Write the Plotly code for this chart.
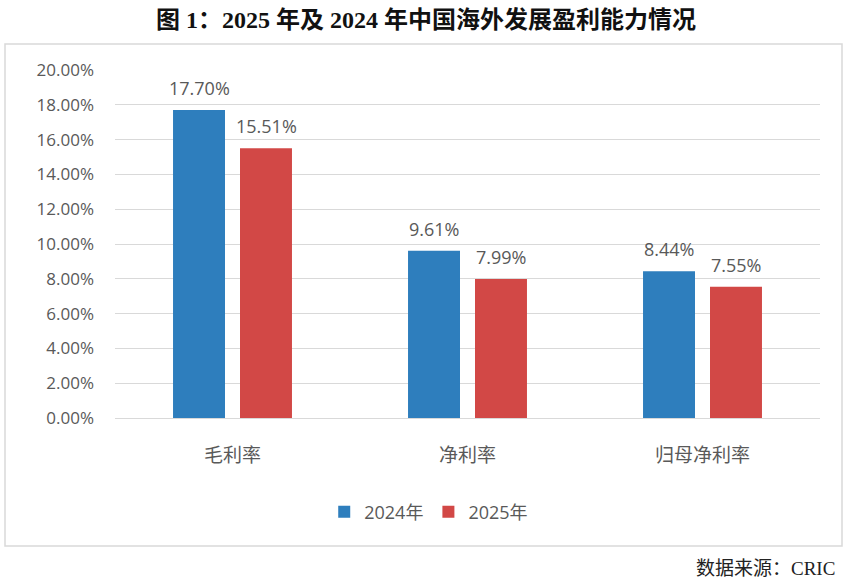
import plotly.graph_objects as go

categories = ["毛利率", "净利率", "归母净利率"]
series_names = ["2024年", "2025年"]
values_2024 = [0.1770, 0.0961, 0.0844]
values_2025 = [0.1551, 0.0799, 0.0755]
y_ticks = [0, 0.02, 0.04, 0.06, 0.08, 0.10, 0.12, 0.14, 0.16, 0.18, 0.20]

colors = ["#2E7EBD", "#D24846"]
grey = "#595959"
L, R, T, B = 115, 32, 70, 168
W, H = 852, 586
pw, ph = W - L - R, H - T - B

fig = go.Figure()
for name, vals, c in zip(series_names, [values_2024, values_2025], colors):
    fig.add_trace(go.Bar(x=categories, y=vals, name=name, marker_color=c,
                         marker_line_width=0))

# data labels
for vals, shift in [(values_2024, -33.5), (values_2025, 33.5)]:
    for cat, v in zip(categories, vals):
        fig.add_annotation(x=cat, y=v, text=f"{v*100:.2f}%", showarrow=False,
                           xshift=shift, yshift=8, yanchor="bottom",
                           font=dict(size=18, color=grey, family="Open Sans"))

def px(x):
    return (x - L) / pw

def py(y):
    return (H - B - y) / ph

# outer chart border
fig.add_shape(type="rect", xref="paper", yref="paper",
              x0=px(5), x1=px(842), y0=py(546), y1=py(44),
              line=dict(color="#d9d9d9", width=1.5), fillcolor="rgba(0,0,0,0)")

# source
fig.add_annotation(xref="paper", yref="paper", x=px(837), y=py(568),
                   xanchor="right", yanchor="middle", showarrow=False,
                   text="数据来源：CRIC",
                   font=dict(size=19, color="#222222", family="Liberation Serif, Noto Sans CJK SC"))

fig.update_layout(
    width=W, height=H,
    margin=dict(l=L, r=R, t=T, b=B),
    paper_bgcolor="white", plot_bgcolor="white",
    barmode="group", bargap=0.43, bargroupgap=0.224,
    title=dict(text="<b>图 1：2025 年及 2024 年中国海外发展盈利能力情况</b>",
               x=0.5, xanchor="center", y=1 - 20 / H, yanchor="middle",
               font=dict(size=24, color="#111111", family="Liberation Serif, Noto Sans CJK SC")),
    legend=dict(orientation="h", x=0.445, xanchor="center", y=py(512), yanchor="middle",
                font=dict(size=18, color=grey, family="Open Sans, Noto Sans CJK SC"),
                itemwidth=30, traceorder="normal"),
    showlegend=True,
)
fig.update_yaxes(range=[0, 0.20], tickvals=y_ticks, tickformat=".2%",
                 showgrid=True, gridcolor="#d9d9d9", gridwidth=1,
                 zeroline=False, showline=False, ticks="",
                 tickfont=dict(size=17, color=grey, family="Open Sans"),
                 ticklabelstandoff=20)
fig.update_xaxes(showline=True, linecolor="#d9d9d9", linewidth=1, ticks="",
                 tickfont=dict(size=19, color=grey, family="Noto Sans CJK SC"),
                 ticklabelstandoff=20)

fig.write_html("out.html", post_script="document.body.style.margin='0';",
               config={"displayModeBar": False})
